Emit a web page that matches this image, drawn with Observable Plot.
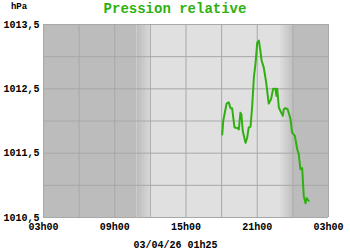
<!DOCTYPE html>
<html>
<head>
<meta charset="utf-8">
<script src="https://cdn.jsdelivr.net/npm/d3@7"></script>
<script src="https://cdn.jsdelivr.net/npm/@observablehq/plot@0.6"></script>
<style>
  html, body { margin: 0; padding: 0; background: #fff; }
</style>
</head>
<body>
<div id="chart"></div>
<script>
// ---- data ----
const titleText = "Pression relative";
const unitText = "hPa";
const captionText = "03/04/26 01h25";

const times = [
  "2026-04-02T18:03Z","2026-04-02T18:08Z","2026-04-02T18:25Z","2026-04-02T18:36Z","2026-04-02T18:45Z",
  "2026-04-02T18:53Z","2026-04-02T19:05Z","2026-04-02T19:19Z","2026-04-02T19:27Z","2026-04-02T19:35Z",
  "2026-04-02T19:40Z","2026-04-02T19:47Z","2026-04-02T20:01Z","2026-04-02T20:09Z","2026-04-02T20:17Z",
  "2026-04-02T20:26Z","2026-04-02T20:34Z","2026-04-02T20:43Z","2026-04-02T20:51Z","2026-04-02T21:00Z",
  "2026-04-02T21:08Z","2026-04-02T21:16Z","2026-04-02T21:22Z","2026-04-02T21:33Z","2026-04-02T21:45Z",
  "2026-04-02T21:58Z","2026-04-02T22:10Z","2026-04-02T22:20Z","2026-04-02T22:32Z","2026-04-02T22:37Z",
  "2026-04-02T22:41Z","2026-04-02T22:49Z","2026-04-02T23:01Z","2026-04-02T23:09Z","2026-04-02T23:14Z",
  "2026-04-02T23:23Z","2026-04-02T23:34Z","2026-04-02T23:48Z","2026-04-02T23:56Z","2026-04-03T00:10Z",
  "2026-04-03T00:22Z","2026-04-03T00:30Z","2026-04-03T00:38Z","2026-04-03T00:47Z","2026-04-03T00:55Z",
  "2026-04-03T01:04Z","2026-04-03T01:09Z","2026-04-03T01:20Z"
];
const pressure = [
  1011.79, 1012.00, 1012.27, 1012.29, 1012.20,
  1012.20, 1011.90, 1011.89, 1011.87, 1012.13,
  1012.10, 1011.84, 1011.66, 1011.74, 1011.90,
  1011.91, 1012.21, 1012.68, 1012.89, 1013.22,
  1013.25, 1013.09, 1012.94, 1012.83, 1012.60,
  1012.27, 1012.34, 1012.50, 1012.50, 1012.39,
  1012.50, 1012.21, 1012.13, 1012.08, 1012.18,
  1012.20, 1012.18, 1012.03, 1011.82, 1011.77,
  1011.56, 1011.48, 1011.25, 1011.27, 1010.83,
  1010.72, 1010.80, 1010.76
];

// background periods (night / twilight / day)
const bandStart = ["2026-04-02T03:00Z","2026-04-02T10:53Z","2026-04-02T12:00Z","2026-04-02T22:52Z","2026-04-03T00:00Z"];
const bandEnd   = ["2026-04-02T10:53Z","2026-04-02T12:00Z","2026-04-02T22:52Z","2026-04-03T00:00Z","2026-04-03T03:00Z"];
const bandKind  = ["night","dawn","day","dusk","night"];

const xDomain = ["2026-04-02T03:00Z", "2026-04-03T03:00Z"];
const xGridTimes = ["2026-04-02T03:00Z","2026-04-02T06:00Z","2026-04-02T09:00Z","2026-04-02T12:00Z","2026-04-02T15:00Z",
                    "2026-04-02T18:00Z","2026-04-02T21:00Z","2026-04-03T00:00Z","2026-04-03T03:00Z"];
const xTickTimes = ["2026-04-02T03:00Z","2026-04-02T09:00Z","2026-04-02T15:00Z","2026-04-02T21:00Z","2026-04-03T03:00Z"];
const yDomain = [1010.5, 1013.5];
const yTicks = [1010.5, 1011.5, 1012.5, 1013.5];
const yGrid = [1010.5, 1011, 1011.5, 1012, 1012.5, 1013, 1013.5];

// ---- build ----
const series = times.map((t, i) => ({time: new Date(t), value: pressure[i]}));
const bands = bandStart.map((s, i) => ({start: new Date(s), end: new Date(bandEnd[i]), kind: bandKind[i]}));
const x0 = new Date(xDomain[0]), x1 = new Date(xDomain[1]);
const xGrid = xGridTimes.map(t => new Date(t));
const xTicks = xTickTimes.map(t => new Date(t));

const green = "#30b010";
const fillFor = {night: "#bcbcbc", day: "#e0e0e0", dawn: "url(#gDawn)", dusk: "url(#gDusk)"};

const chart = Plot.plot({
  width: 350,
  height: 250,
  marginTop: 24,
  marginBottom: 33,
  marginLeft: 43,
  marginRight: 22,
  style: {fontFamily: "'Liberation Mono', 'DejaVu Sans Mono', monospace", fontSize: "10px", fontWeight: "bold", background: "#fff", color: "#000"},
  x: {type: "utc", domain: [x0, x1], ticks: xTicks, tickFormat: d3.utcFormat("%Hh%M"), tickSize: 0, tickPadding: 5, label: null},
  y: {domain: yDomain, ticks: yTicks, tickFormat: d => d.toFixed(1).replace(".", ","), tickSize: 0, tickPadding: 4, label: null},
  marks: [
    ...["night", "dawn", "day", "dusk"].map(k =>
      Plot.rect(bands.filter(b => b.kind === k), {x1: "start", x2: "end", fill: fillFor[k]})
    ),
    Plot.gridX(xGrid, {stroke: "#a8a8a8", strokeOpacity: 1, strokeWidth: 1}),
    Plot.gridY(yGrid, {stroke: "#a8a8a8", strokeOpacity: 1, strokeWidth: 1}),
    Plot.line(series, {x: "time", y: "value", stroke: green, strokeWidth: 2, curve: "linear"}),
    Plot.text([titleText], {text: d => d, frameAnchor: "top", lineAnchor: "middle", dx: -11, dy: -16, fill: green, fontSize: 14, fontWeight: "bold"}),
    Plot.text([unitText], {text: d => d, frameAnchor: "top-left", textAnchor: "middle", lineAnchor: "middle", dx: -24.5, dy: -18, fontSize: 9, fontWeight: "bold"}),
    Plot.text([captionText], {text: d => d, frameAnchor: "bottom", lineAnchor: "middle", dx: -10.5, dy: 27, fontSize: 10, fontWeight: "bold"})
  ]
});

// gradients for twilight transitions
const ns = "http://www.w3.org/2000/svg";
const defs = document.createElementNS(ns, "defs");
function grad(id, from, to) {
  const g = document.createElementNS(ns, "linearGradient");
  g.setAttribute("id", id);
  g.setAttribute("x1", "0"); g.setAttribute("x2", "1"); g.setAttribute("y1", "0"); g.setAttribute("y2", "0");
  [[0, from], [1, to]].forEach(([o, c]) => {
    const s = document.createElementNS(ns, "stop");
    s.setAttribute("offset", o); s.setAttribute("stop-color", c);
    g.appendChild(s);
  });
  defs.appendChild(g);
}
grad("gDawn", "#bcbcbc", "#d8d8d8");
grad("gDusk", "#e0e0e0", "#c0c0c0");
chart.insertBefore(defs, chart.firstChild);

document.getElementById("chart").appendChild(chart);
</script>
</body>
</html>
